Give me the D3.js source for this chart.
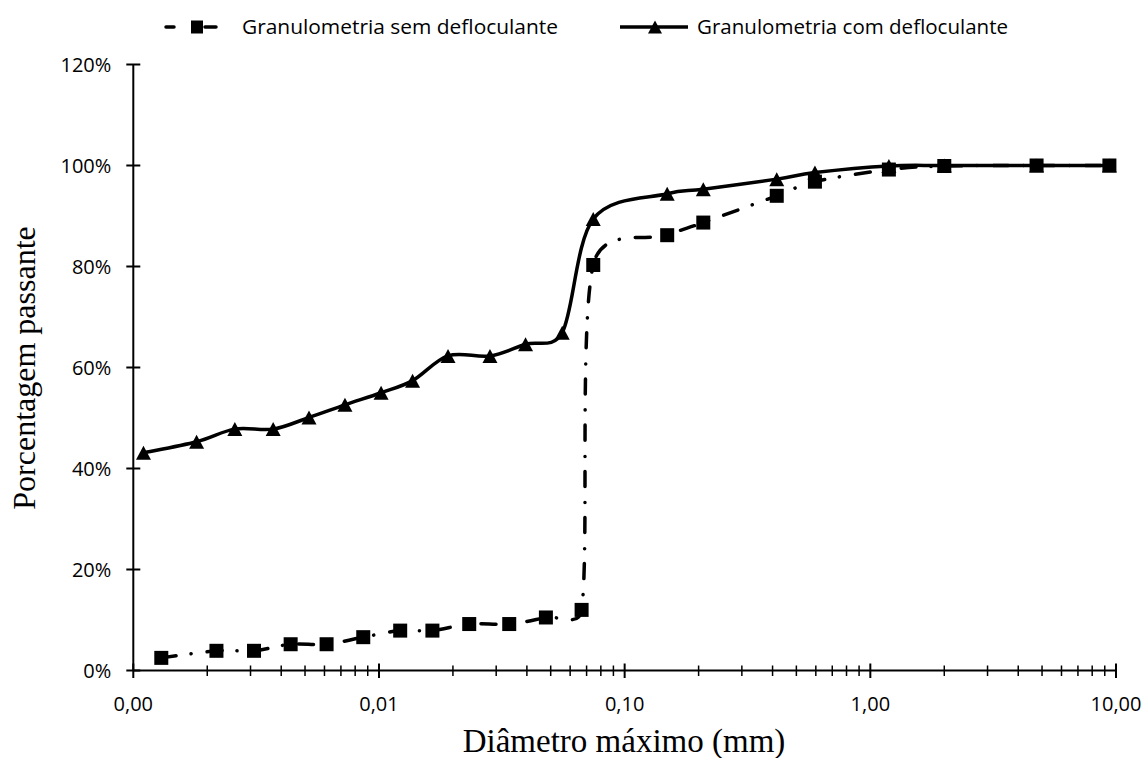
<!DOCTYPE html>
<html>
<head>
<meta charset="utf-8">
<script src="https://cdn.jsdelivr.net/npm/d3@7"></script>
<style>
  html, body { margin: 0; padding: 0; background: #fff; }
  svg { display: block; }
</style>
</head>
<body>
<svg id="chart" width="1145" height="758"></svg>
<script>
// ---- Data ----
const seriesNames = ["Granulometria sem defloculante", "Granulometria com defloculante"];
const semDiam = [0.0013, 0.00218, 0.0031, 0.00437, 0.00612, 0.00863, 0.0122, 0.0165, 0.0233, 0.0339, 0.0478, 0.0668, 0.0745, 0.149, 0.209, 0.416, 0.595, 1.19, 2.0, 4.75, 9.4];
const semPass = [2.5, 3.9, 3.9, 5.2, 5.2, 6.6, 7.9, 7.9, 9.2, 9.2, 10.5, 12.0, 80.3, 86.2, 88.7, 94.0, 96.8, 99.2, 99.9, 100, 100];
const comDiam = [0.0011, 0.00181, 0.00259, 0.00371, 0.00519, 0.00727, 0.0102, 0.0137, 0.0191, 0.0283, 0.0395, 0.0557, 0.0745, 0.149, 0.209, 0.416, 0.595, 1.19, 2.0, 4.75, 9.4];
const comPass = [43.1, 45.3, 47.8, 47.8, 50.1, 52.6, 55.0, 57.4, 62.3, 62.3, 64.6, 66.9, 89.4, 94.4, 95.3, 97.3, 98.6, 99.9, 100, 100, 100];
const xTickValues = [0.001, 0.01, 0.1, 1, 10];
const xTickLabels = ["0,00", "0,01", "0,10", "1,00", "10,00"];
const yTickValues = [0, 20, 40, 60, 80, 100, 120];
const yTickLabels = ["0%", "20%", "40%", "60%", "80%", "100%", "120%"];
const xTitle = "Diâmetro máximo (mm)";
const yTitle = "Porcentagem passante";

// ---- Smoothed line (spreadsheet-style Bezier smoothing) ----
function smoothCurve(context) {
  let pts;
  const limit = (t, lim) => {
    const len = Math.hypot(t[0], t[1]);
    if (len > lim && len > 0) return [t[0] * lim / len, t[1] * lim / len];
    return t;
  };
  return {
    areaStart() {}, areaEnd() {},
    lineStart() { pts = []; },
    point(px, py) { pts.push([+px, +py]); },
    lineEnd() {
      const n = pts.length;
      if (!n) return;
      context.moveTo(pts[0][0], pts[0][1]);
      const tan = pts.map((p, i) => {
        const a = pts[Math.max(0, i - 1)], b = pts[Math.min(n - 1, i + 1)];
        return [(b[0] - a[0]) / 6, (b[1] - a[1]) / 6];
      });
      for (let i = 0; i < n - 1; i++) {
        const p = pts[i], q = pts[i + 1];
        const lim = Math.hypot(q[0] - p[0], q[1] - p[1]) / 2;
        const c1 = limit(tan[i], lim), c2 = limit(tan[i + 1], lim);
        context.bezierCurveTo(p[0] + c1[0], p[1] + c1[1], q[0] - c2[0], q[1] - c2[1], q[0], q[1]);
      }
    }
  };
}

// ---- Layout ----
const svg = d3.select("#chart");
const x = d3.scaleLog().domain([0.001, 10]).range([133.3, 1116]);
const y = d3.scaleLinear().domain([0, 120]).range([670.5, 64.5]);
const tickFont = "'Open Sans', sans-serif";

// minor ticks (2..9 in each decade)
const minorVals = [];
for (let e = -3; e < 1; e++) for (let k = 2; k <= 9; k++) minorVals.push(k * Math.pow(10, e));

// X axis
const xAxisG = svg.append("g").attr("transform", `translate(0,${y(0)})`);
xAxisG.append("line").attr("x1", x(0.001)).attr("x2", x(10)).attr("stroke", "#000").attr("stroke-width", 2);
xAxisG.selectAll(".minor").data(minorVals).enter().append("line")
  .attr("x1", d => x(d)).attr("x2", d => x(d)).attr("y1", -5).attr("y2", 5.5)
  .attr("stroke", "#000").attr("stroke-width", 1.5);
xAxisG.selectAll(".major").data(xTickValues).enter().append("line")
  .attr("x1", d => x(d)).attr("x2", d => x(d)).attr("y1", -7).attr("y2", 7.5)
  .attr("stroke", "#000").attr("stroke-width", 2);
xAxisG.selectAll(".lbl").data(xTickValues).enter().append("text")
  .attr("x", d => x(d)).attr("y", 40)
  .attr("text-anchor", "middle")
  .attr("font-family", tickFont).attr("font-size", 20).attr("fill", "#000")
  .text((d, i) => xTickLabels[i]);

// Y axis
const yAxisG = svg.append("g").attr("transform", `translate(${x(0.001)},0)`);
yAxisG.append("line").attr("y1", y(0)).attr("y2", y(120)).attr("stroke", "#000").attr("stroke-width", 2);
yAxisG.selectAll(".major").data(yTickValues).enter().append("line")
  .attr("y1", d => y(d)).attr("y2", d => y(d)).attr("x1", -7).attr("x2", 7)
  .attr("stroke", "#000").attr("stroke-width", 2);
yAxisG.selectAll(".lbl").data(yTickValues).enter().append("text")
  .attr("x", -22).attr("y", d => y(d)).attr("dy", "0.36em")
  .attr("text-anchor", "end")
  .attr("font-family", tickFont).attr("font-size", 20).attr("fill", "#000")
  .text((d, i) => yTickLabels[i]);

// Axis titles
svg.append("text").attr("x", 624).attr("y", 752).attr("text-anchor", "middle")
  .attr("font-family", "'Liberation Serif', 'Times New Roman', serif").attr("font-size", 33)
  .attr("fill", "#000").text(xTitle);
svg.append("text").attr("transform", `translate(35,368) rotate(-90)`).attr("text-anchor", "middle")
  .attr("font-family", "'Liberation Serif', 'Times New Roman', serif").attr("font-size", 32)
  .attr("fill", "#000").text(yTitle);

// Series
const semData = semDiam.map((d, i) => ({ d, p: semPass[i] }));
const comData = comDiam.map((d, i) => ({ d, p: comPass[i] }));
const line = d3.line().x(v => x(v.d)).y(v => y(v.p)).curve(smoothCurve);
const dashDot = "15,15,0.1,16";

const triPath = "M0,-7L7.5,7L-7.5,7Z";

svg.append("path").datum(comData).attr("d", line)
  .attr("fill", "none").attr("stroke", "#000").attr("stroke-width", 3.5).attr("stroke-linejoin", "round");
svg.append("g").selectAll("path").data(comData).enter().append("path")
  .attr("d", triPath).attr("transform", v => `translate(${x(v.d)},${y(v.p)})`).attr("fill", "#000");

svg.append("path").datum(semData).attr("d", line)
  .attr("fill", "none").attr("stroke", "#000").attr("stroke-width", 3.5)
  .attr("stroke-linecap", "round").attr("stroke-dasharray", dashDot);
svg.append("g").selectAll("rect").data(semData).enter().append("rect")
  .attr("x", v => x(v.d) - 7).attr("y", v => y(v.p) - 7).attr("width", 14).attr("height", 14).attr("fill", "#000");

// Legend
const leg = svg.append("g");
// entry 1
leg.append("line").attr("x1", 166).attr("x2", 174).attr("y1", 27).attr("y2", 27)
  .attr("stroke", "#000").attr("stroke-width", 3.5).attr("stroke-linecap", "round");
leg.append("line").attr("x1", 205).attr("x2", 216).attr("y1", 27).attr("y2", 27)
  .attr("stroke", "#000").attr("stroke-width", 3.5).attr("stroke-linecap", "round");
leg.append("rect").attr("x", 191).attr("y", 20.5).attr("width", 12).attr("height", 13).attr("fill", "#000");
leg.append("text").attr("x", 242).attr("y", 34).attr("font-family", tickFont).attr("font-size", 20.5)
  .attr("fill", "#000").attr("textLength", 316).attr("lengthAdjust", "spacingAndGlyphs").text(seriesNames[0]);
// entry 2
leg.append("line").attr("x1", 620).attr("x2", 688).attr("y1", 27).attr("y2", 27)
  .attr("stroke", "#000").attr("stroke-width", 3.5);
leg.append("path").attr("d", "M0,-6.5L7,6.5L-7,6.5Z").attr("transform", "translate(655,27)").attr("fill", "#000");
leg.append("text").attr("x", 697).attr("y", 34).attr("font-family", tickFont).attr("font-size", 20.5)
  .attr("fill", "#000").attr("textLength", 311).attr("lengthAdjust", "spacingAndGlyphs").text(seriesNames[1]);
</script>
</body>
</html>
